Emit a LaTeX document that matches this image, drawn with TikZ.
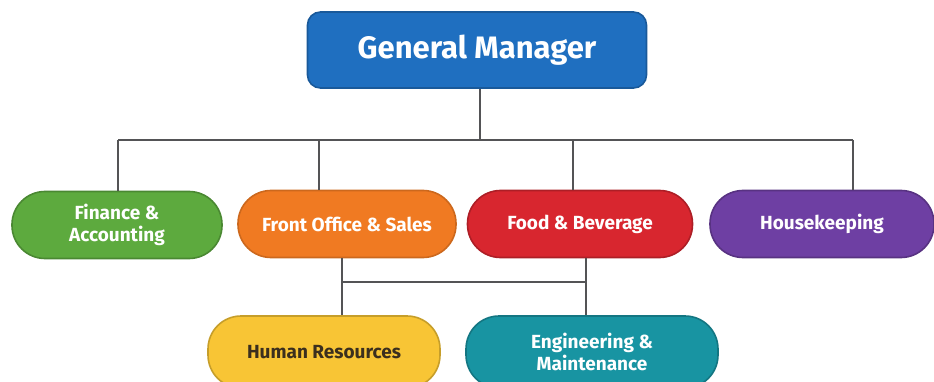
\documentclass[tikz,border=0pt]{standalone}
\usepackage{fontspec}
\setmainfont{Fira Sans}
\definecolor{gmblue}{HTML}{1F6FC0}
\definecolor{fingreen}{HTML}{5DAA3E}
\definecolor{foorange}{HTML}{F07A22}
\definecolor{fbred}{HTML}{D8262F}
\definecolor{hkpurple}{HTML}{6E3FA3}
\definecolor{hryellow}{HTML}{F8C535}
\definecolor{engteal}{HTML}{1894A2}
\definecolor{linegray}{HTML}{545456}
\definecolor{hrtext}{HTML}{3B2F1E}
\tikzset{
  dept/.style={rectangle, rounded corners=33pt, minimum height=67pt, line width=1.6pt,
    text=white, font=\fontsize{19}{22}\selectfont\bfseries, align=center, inner sep=0pt},
  link/.style={draw=linegray, line width=2.7pt}
}
\begin{document}
\begin{tikzpicture}[x=1pt, y=-1pt]
      \useasboundingbox (0,0) rectangle (934,382);
      \draw
        (477,50) node[rectangle, rounded corners=13pt, minimum width=339pt, minimum height=76pt,
          fill=gmblue, draw=gmblue!80!black, line width=1.6pt, text=white,
          font=\fontsize{31}{32}\selectfont\bfseries] (gm){General Manager}
        (117,225) node[dept, minimum width=210pt, fill=fingreen, draw=fingreen!80!black] (fin){Finance \&\\Accounting}
        (347,224) node[dept, minimum width=218pt, fill=foorange, draw=foorange!85!black] (fo){Front Office \& Sales}
        (580,224) node[dept, minimum width=225pt, fill=fbred, draw=fbred!80!black] (fb){Food \& Beverage}
        (822,224) node[dept, minimum width=224pt, fill=hkpurple, draw=hkpurple!80!black] (hk){Housekeeping}
        (324,352) node[dept, minimum width=232pt, minimum height=72pt, fill=hryellow, draw=hryellow!80!black, text=hrtext] (hr){Human Resources}
        (592,352) node[dept, minimum width=252pt, minimum height=72pt, fill=engteal, draw=engteal!80!black] (eng){Engineering \&\\Maintenance};
      \coordinate (bus) at (480,140);
      \coordinate (busL) at (118,140);
      \coordinate (busR) at (853,140);
      \coordinate (lowL) at (342,282);
      \coordinate (lowR) at (586,282);
      \begin{scope}[link]
        \draw (bus |- gm.south) -- (bus);
        \draw (busL) -- (busR);
        \draw (busL) -- (busL |- fin.north);
        \draw (319,140) -- (319,140 |- fo.north);
        \draw (573,140) -- (573,140 |- fb.north);
        \draw (busR) -- (busR |- hk.north);
        \draw (lowL |- fo.south) -- (lowL);
        \draw (lowR |- fb.south) -- (lowR);
        \draw (lowL) -- (lowR);
        \draw (lowL) -- (lowL |- hr.north);
        \draw (lowR) -- (lowR |- eng.north);
      \end{scope}
    \end{tikzpicture}
\end{document}
